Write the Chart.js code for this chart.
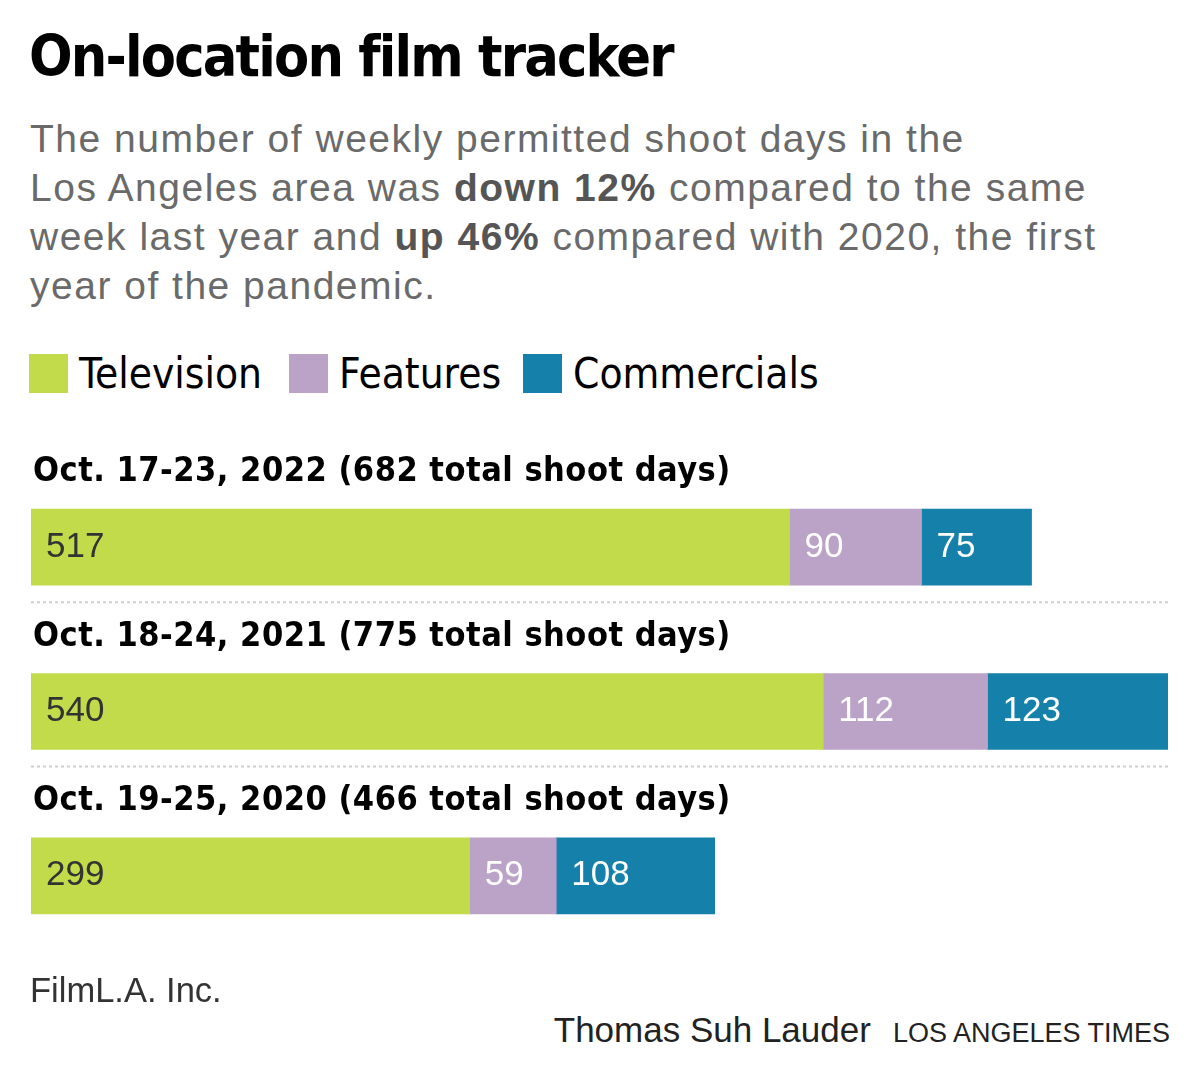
<!DOCTYPE html>
<html>
<head>
<meta charset="utf-8">
<script src="https://cdn.jsdelivr.net/npm/chart.js@4/dist/chart.umd.min.js"></script>
<style>
  body { margin: 0; background: #fff; }
  #page { position: relative; width: 1200px; height: 1086px; overflow: hidden; font-family: 'DejaVu Sans Condensed', 'Liberation Sans', sans-serif; }
  #title { position: absolute; left: 29px; top: 23px; font-size: 57px; letter-spacing: -1.8px; font-weight: bold; color: #000; white-space: nowrap; }
  #subtitle { position: absolute; left: 30px; top: 114px; font-family: 'Liberation Sans', sans-serif; font-size: 39px; letter-spacing: 1.5px; line-height: 49px; color: #6a6a6a; white-space: nowrap; }
  #subtitle b { color: #555; }
  #legend { position: absolute; left: 29px; top: 354px; font-size: 42px; color: #000; white-space: nowrap; }
  .item { position: absolute; top: 0; }
  .sw { position: absolute; top: 0; width: 39px; height: 39px; }
  .lt { position: absolute; top: -5px; white-space: nowrap; }
  #chartBox { position: absolute; left: 0; top: 440px; width: 1200px; height: 560px; }
  #source { position: absolute; left: 30px; top: 971px; font-family: 'Liberation Sans', sans-serif; font-size: 34.5px; color: #333; }
  #credit { position: absolute; right: 30px; top: 1010px; font-family: 'Liberation Sans', sans-serif; font-size: 35px; color: #222; white-space: nowrap; }
  #credit span { font-size: 27px; margin-left: 22px; }
</style>
</head>
<body>
<div id="page">
  <div id="title">On-location film tracker</div>
  <div id="subtitle">The number of weekly permitted shoot days in the<br>Los Angeles area was <b>down 12%</b> compared to the same<br>week last year and <b>up 46%</b> compared with 2020, the first<br>year of the pandemic.</div>
  <div id="legend"></div>
  <div id="chartBox"><canvas id="chart" width="1200" height="560"></canvas></div>
  <div id="source">FilmL.A. Inc.</div>
  <div id="credit">Thomas Suh Lauder<span>LOS ANGELES TIMES</span></div>
</div>
<script>
// data
const weeks = ['Oct. 17-23, 2022', 'Oct. 18-24, 2021', 'Oct. 19-25, 2020'];
const totals = [682, 775, 466];
const television = [517, 540, 299];
const features = [90, 112, 59];
const commercials = [75, 123, 108];

const seriesNames = ['Television', 'Features', 'Commercials'];
const seriesColors = ['#c2db4b', '#bba2c7', '#1581aa'];
const labelColors = ['#333333', '#ffffff', '#ffffff'];

// legend (html)
const legendEl = document.getElementById('legend');
const legendX = [0, 260, 494];
seriesNames.forEach((name, i) => {
    const it = document.createElement('div');
    it.className = 'item';
    it.style.left = legendX[i] + 'px';
    it.innerHTML = '<div class="sw" style="background:' + seriesColors[i] + '"></div><div class="lt" style="left:50px">' + name + '</div>';
    legendEl.appendChild(it);
});

// week headers + dotted separators
const headerPlugin = {
    id: 'headers',
    afterDatasetsDraw(chart) {
        const ctx = chart.ctx;
        const meta = chart.getDatasetMeta(0);
        const area = chart.chartArea;
        ctx.save();
        meta.data.forEach((bar, i) => {
            const top = bar.y - bar.height / 2;
            const bottom = bar.y + bar.height / 2;
            ctx.fillStyle = '#000';
            ctx.font = 'bold 34px "DejaVu Sans Condensed", sans-serif';
            ctx.letterSpacing = '0.5px';
            ctx.textBaseline = 'alphabetic';
            ctx.textAlign = 'left';
            ctx.fillText(weeks[i] + ' (' + totals[i] + ' total shoot days)', 33, top - 28);
            ctx.letterSpacing = '0px';
            if (i < meta.data.length - 1) {
                ctx.strokeStyle = '#cfcfcf';
                ctx.lineWidth = 2;
                ctx.setLineDash([3, 3]);
                ctx.beginPath();
                ctx.moveTo(area.left, bottom + 17);
                ctx.lineTo(area.right, bottom + 17);
                ctx.stroke();
            }
        });
        ctx.restore();
    }
};

// numbers inside segments
const valuePlugin = {
    id: 'values',
    afterDatasetsDraw(chart) {
        const ctx = chart.ctx;
        ctx.save();
        ctx.font = '35px "Liberation Sans", sans-serif';
        ctx.textBaseline = 'middle';
        ctx.textAlign = 'left';
        chart.data.datasets.forEach((ds, d) => {
            chart.getDatasetMeta(d).data.forEach((bar, i) => {
                const left = Math.min(bar.x, bar.base);
                ctx.fillStyle = labelColors[d];
                ctx.fillText(String(ds.data[i]), left + 15, bar.y);
            });
        });
        ctx.restore();
    }
};

new Chart(document.getElementById('chart'), {
    type: 'bar',
    data: {
        labels: weeks,
        datasets: [
            { label: seriesNames[0], data: television, backgroundColor: seriesColors[0] },
            { label: seriesNames[1], data: features, backgroundColor: seriesColors[1] },
            { label: seriesNames[2], data: commercials, backgroundColor: seriesColors[2] }
        ]
    },
    options: {
        indexAxis: 'y',
        responsive: false,
        animation: false,
        devicePixelRatio: 1,
        barThickness: 76,
        layout: { padding: { left: 31, right: 32, top: 25, bottom: 42 } },
        scales: {
            x: { stacked: true, min: 0, max: 775, display: false },
            y: { stacked: true, display: false }
        },
        plugins: { legend: { display: false }, tooltip: { enabled: false } }
    },
    plugins: [headerPlugin, valuePlugin]
});
</script>
</body>
</html>
